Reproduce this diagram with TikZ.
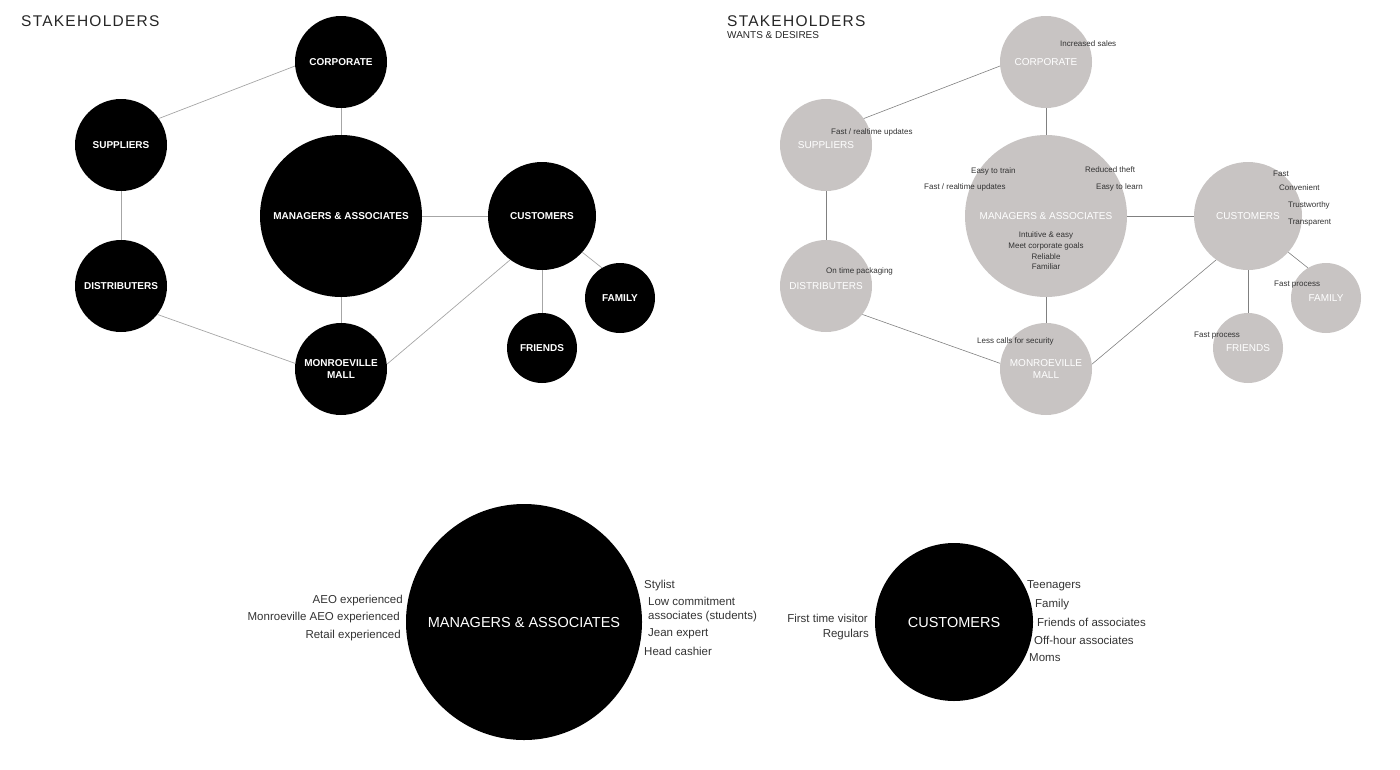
\documentclass[tikz,border=0pt]{standalone}
\usepackage{fontspec}
\setmainfont{Liberation Sans}
\newfontfamily\titlefont[LetterSpace=8]{Liberation Sans}
\definecolor{wantgray}{RGB}{200,196,195}

\begin{document}
\begin{tikzpicture}
  [x=1pt, y=-1pt,
   hub/.style={circle, fill=black, text=white, inner sep=0pt, align=center,
               font=\bfseries\fontsize{10}{11.5}\selectfont},
   want/.style={circle, fill=wantgray, text=white, inner sep=0pt, align=center,
               font=\fontsize{10}{12}\selectfont},
   big/.style={circle, fill=black, text=white, inner sep=0pt,
               font=\fontsize{14.5}{17}\selectfont},
   heading/.style={anchor=west, inner sep=0pt, text=black!85,
               font=\titlefont\fontsize{15.5}{18}\selectfont},
   link/.style={draw=black!35, line width=.7pt},
   wlink/.style={draw=black!50, line width=.6pt},
   note/.style={inner sep=0pt, text=black!80, text height=1.5ex, text depth=.25ex,
               font=\fontsize{8}{10.7}\selectfont},
   side/.style={inner sep=0pt, text=black!80, text height=1.5ex, text depth=.25ex,
               font=\fontsize{11.5}{13}\selectfont}]
  \useasboundingbox (0,0) rectangle (1400,769);

  % stakeholders
  \node [heading] (title) at (21,21) {STAKEHOLDERS};
  \node [hub, minimum size=92pt]  (corp)    at (341,62)  {CORPORATE};
  \node [hub, minimum size=92pt]  (sup)     at (121,145) {SUPPLIERS};
  \node [hub, minimum size=162pt] (mgr)     at (341,216) {MANAGERS \& ASSOCIATES};
  \node [hub, minimum size=108pt] (cust)    at (542,216) {CUSTOMERS};
  \node [hub, minimum size=92pt]  (dist)    at (121,286) {DISTRIBUTERS};
  \node [hub, minimum size=92pt]  (mall)    at (341,369) {MONROEVILLE\\MALL};
  \node [hub, minimum size=70pt]  (friends) at (542,348) {FRIENDS};
  \node [hub, minimum size=70pt]  (family)  at (620,298) {FAMILY};
  \draw [link] (sup.35) -- (corp.185);
  \draw [link] (corp) -- (mgr);
  \draw [link] (sup) -- (dist);
  \draw [link] (dist.-38) -- (mall.173);
  \draw [link] (mgr) -- (mall);
  \draw [link] (mgr) -- (cust);
  \draw [link] (mall.6) -- (cust.234);
  \draw [link] (cust) -- (friends);
  \draw [link] (cust.-42) -- (family.121);

  % wants & desires
  \node [heading] (wtitle) at (727,21) {STAKEHOLDERS};
  \node [anchor=west, inner sep=0pt, text=black!85, font=\fontsize{10}{11}\selectfont] (wsub) at (727,35) {WANTS \& DESIRES};
  \node [want, minimum size=92pt]  (wcorp)    at (1046,62)  {CORPORATE};
  \node [want, minimum size=92pt]  (wsup)     at (826,145)  {SUPPLIERS};
  \node [want, minimum size=162pt] (wmgr)     at (1046,216) {MANAGERS \& ASSOCIATES};
  \node [want, minimum size=108pt] (wcust)    at (1248,216) {CUSTOMERS};
  \node [want, minimum size=92pt]  (wdist)    at (826,286)  {DISTRIBUTERS};
  \node [want, minimum size=92pt]  (wmall)    at (1046,369) {MONROEVILLE\\MALL};
  \node [want, minimum size=70pt]  (wfriends) at (1248,348) {FRIENDS};
  \node [want, minimum size=70pt]  (wfamily)  at (1326,298) {FAMILY};
  \draw [wlink] (wsup.35) -- (wcorp.185);
  \draw [wlink] (wcorp) -- (wmgr);
  \draw [wlink] (wsup) -- (wdist);
  \draw [wlink] (wdist.-38) -- (wmall.173);
  \draw [wlink] (wmgr) -- (wmall);
  \draw [wlink] (wmgr) -- (wcust);
  \draw [wlink] (wmall.6) -- (wcust.234);
  \draw [wlink] (wcust) -- (wfriends);
  \draw [wlink] (wcust.-42) -- (wfamily.121);
  \node [note, anchor=west] (wcorp1) at (1060,43)  {Increased sales};
  \node [note, anchor=west] (wsup1)  at (831,131)  {Fast / realtime updates};
  \node [note, anchor=west] (wmgr1)  at (971,170)  {Easy to train};
  \node [note, anchor=west] (wmgr2)  at (1085,169) {Reduced theft};
  \node [note, anchor=west] (wmgr3)  at (924,186)  {Fast / realtime updates};
  \node [note, anchor=west] (wmgr4)  at (1096,186) {Easy to learn};
  \node [note, align=center, text height=, text depth=] (wmgr5) at (1046,251)
        {Intuitive \& easy\\Meet corporate goals\\Reliable\\Familiar};
  \node [note, anchor=west] (wcust1) at (1273,173) {Fast};
  \node [note, anchor=west] (wcust2) at (1279,187) {Convenient};
  \node [note, anchor=west] (wcust3) at (1288,204) {Trustworthy};
  \node [note, anchor=west] (wcust4) at (1288,221) {Transparent};
  \node [note, anchor=west] (wdist1) at (826,270)  {On time packaging};
  \node [note, anchor=west] (wfam1)  at (1274,283) {Fast process};
  \node [note, anchor=west] (wmall1) at (977,340)  {Less calls for security};
  \node [note, anchor=west] (wfri1)  at (1194,334) {Fast process};

  % close-ups
  \node [big, minimum size=236pt] (bmgr) at (524,622) {MANAGERS \& ASSOCIATES};
  \node [side, anchor=east] (bmgr1) at (403,600) {AEO experienced};
  \node [side, anchor=east] (bmgr2) at (400,617) {Monroeville AEO experienced};
  \node [side, anchor=east] (bmgr3) at (401,635) {Retail experienced};
  \node [side, anchor=west] (bmgr4) at (644,585) {Stylist};
  \node [side, anchor=west] (bmgr5) at (648,602) {Low commitment};
  \node [side, anchor=west] (bmgr6) at (648,616) {associates (students)};
  \node [side, anchor=west] (bmgr7) at (648,633) {Jean expert};
  \node [side, anchor=west] (bmgr8) at (644,652) {Head cashier};

  \node [big, minimum size=158pt] (bcust) at (954,622) {CUSTOMERS};
  \node [side, anchor=east] (bcust1) at (868,619)  {First time visitor};
  \node [side, anchor=east] (bcust2) at (869,634)  {Regulars};
  \node [side, anchor=west] (bcust3) at (1027,585) {Teenagers};
  \node [side, anchor=west] (bcust4) at (1035,604) {Family};
  \node [side, anchor=west] (bcust5) at (1037,623) {Friends of associates};
  \node [side, anchor=west] (bcust6) at (1034,641) {Off-hour associates};
  \node [side, anchor=west] (bcust7) at (1029,658) {Moms};
\end{tikzpicture}
\end{document}
